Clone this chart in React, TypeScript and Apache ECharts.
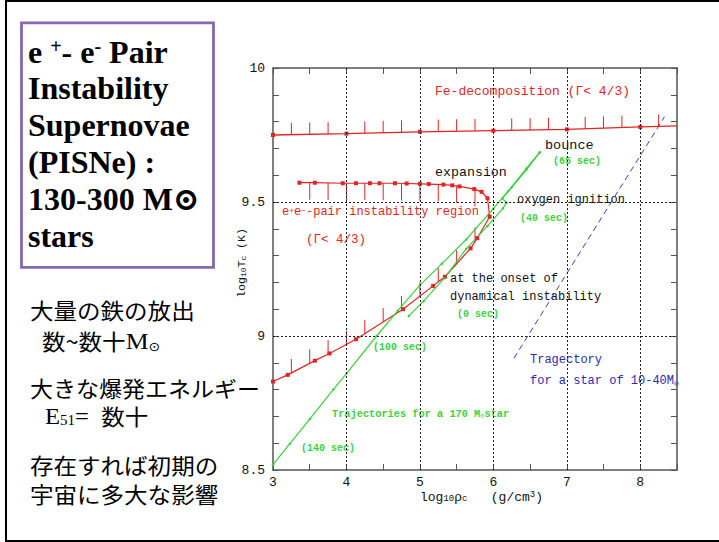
import React, { useEffect, useRef } from "react";
import * as echarts from "echarts";

// ---- data ----
const xLabels = ["3", "4", "5", "6", "7", "8"];
const yLabels = ["8.5", "9", "9.5", "10"];

const feLine: number[][] = [
  [3, 9.75], [4, 9.755], [5, 9.762], [6, 9.766], [7, 9.771], [8, 9.78], [8.5, 9.784],
];
const feTicks: number[][] = [
  [3.25, 9.751], [3.5, 9.752], [3.75, 9.753], [4.25, 9.756], [4.5, 9.758], [4.75, 9.76],
  [5.25, 9.763], [5.5, 9.764], [5.75, 9.765], [6.25, 9.767], [6.5, 9.768], [6.75, 9.77],
  [7.25, 9.773], [7.5, 9.775], [7.75, 9.778], [8.25, 9.782],
];
const pairBoundary: number[][] = [
  [3.0, 8.83], [3.2, 8.855], [3.57, 8.908], [3.77, 8.935], [4.13, 8.988], [4.77, 9.1],
  [5.18, 9.187], [5.34, 9.221], [5.69, 9.327], [5.78, 9.365], [5.95, 9.445], [5.92, 9.514],
  [5.84, 9.538], [5.74, 9.548], [5.54, 9.558], [5.44, 9.562], [5.32, 9.565], [5.12, 9.567],
  [5.0, 9.568], [4.82, 9.569], [4.66, 9.57], [4.45, 9.57], [4.32, 9.57], [4.13, 9.57],
  [3.95, 9.57], [3.57, 9.572], [3.36, 9.572],
];
const pairLowerTicks: number[][] = [
  [3.25, 8.862], [3.5, 8.898], [3.75, 8.932], [4.0, 8.966], [4.25, 9.008], [4.5, 9.052],
  [4.75, 9.097], [5.0, 9.148], [5.25, 9.202], [5.5, 9.268], [5.75, 9.353],
];
const pairUpperTicks: number[][] = [
  [3.5, 9.572], [3.75, 9.571], [4.0, 9.57], [4.25, 9.57], [4.5, 9.57], [4.75, 9.569],
  [5.0, 9.568], [5.25, 9.566], [5.5, 9.56], [5.75, 9.547],
];
const greenExpansion: number[][] = [
  [6.63, 9.685], [6.45, 9.625], [6.2, 9.54], [6.0, 9.475], [5.63, 9.36], [5.3, 9.27],
  [5.0, 9.19], [4.7, 9.095], [4.41, 9.0], [4.0, 8.86], [3.82, 8.8], [3.5, 8.69],
  [3.23, 8.598], [3.0, 8.52],
];
const greenCollapse: number[][] = [
  [4.85, 9.075], [5.05, 9.13], [5.33, 9.215], [5.63, 9.325], [5.92, 9.41], [6.13, 9.476],
  [6.18, 9.497], [6.12, 9.514], [6.25, 9.555], [6.45, 9.62], [6.63, 9.685],
];
const blueTrack: number[][] = [[6.28, 8.917], [8.33, 9.818]];
const gridX = [4, 5, 6, 7, 8];
const gridY = [9, 9.5];

const RED = "#e22424";
const GREEN = "#3ad23a";
const BLUE = "#2a2ab4";
const INK = "#111";
const MONO = "'Liberation Mono', 'DejaVu Sans Mono', monospace";
const SERIF = "'Liberation Serif', 'DejaVu Serif', serif";
const JP = "'Noto Sans CJK JP', sans-serif";

function txt(text: string, x: number, y: number, fill: string, font: string, extra: any = {}, el: any = {}) {
  return {
    type: "text",
    x,
    y,
    silent: true,
    ...el,
    style: { text, fill, font, textAlign: "left", textVerticalAlign: "middle", ...extra },
  };
}

function tickSeries(data: number[][], dir: number, len: number) {
  return {
    type: "custom",
    xAxisIndex: 0,
    yAxisIndex: 0,
    silent: true,
    data,
    renderItem: (_p: any, api: any) => {
      const p = api.coord([api.value(0), api.value(1)]);
      return {
        type: "line",
        shape: { x1: p[0], y1: p[1], x2: p[0], y2: p[1] + dir * len },
        style: { stroke: RED, lineWidth: 1 },
      };
    },
  };
}

export default function App() {
  const ref = useRef<HTMLDivElement>(null);
  useEffect(() => {
    document.body.style.margin = "0";
    const chart = echarts.init(ref.current!, null, { renderer: "svg" });

    const xFmt = (v: number) => {
      const s = String(Math.round(v * 10) / 10);
      return xLabels.includes(s) ? s : "";
    };
    const yFmt = (v: number) => {
      const s = String(Math.round(v * 10) / 10);
      return yLabels.includes(s) ? s : "";
    };
    const axisLine = { lineStyle: { color: "#555", width: 1.5 } };
    const jpStyle = { lineHeight: 22 };
    const jpEl = { scaleX: 1.07 };
    const JPF = `22px ${JP}`;

    const option: any = {
      animation: false,
      backgroundColor: "#fff",
      grid: { left: 273, top: 68, width: 404, height: 402 },
      xAxis: [
        {
          type: "value", min: 3, max: 8.5, interval: 0.5, position: "bottom",
          axisLine, axisTick: { inside: true, length: 6, lineStyle: { color: "#555" } },
          axisLabel: { formatter: xFmt, color: INK, fontFamily: MONO, fontSize: 13, margin: 6 },
          splitLine: { show: false },
        },
        {
          type: "value", min: 3, max: 8.5, interval: 0.5, position: "top",
          axisLine, axisTick: { inside: true, length: 6, lineStyle: { color: "#555" } },
          axisLabel: { show: false }, splitLine: { show: false },
        },
      ],
      yAxis: [
        {
          type: "value", min: 8.5, max: 10, interval: 0.1, position: "left",
          axisLine, axisTick: { inside: true, length: 6, lineStyle: { color: "#555" } },
          axisLabel: { formatter: yFmt, color: INK, fontFamily: MONO, fontSize: 13, margin: 8 },
          splitLine: { show: false },
        },
        {
          type: "value", min: 8.5, max: 10, interval: 0.1, position: "right",
          axisLine, axisTick: { inside: true, length: 6, lineStyle: { color: "#555" } },
          axisLabel: { show: false }, splitLine: { show: false },
        },
      ],
      series: [
        {
          type: "line", data: blueTrack, symbol: "none",
          lineStyle: { color: "#3c3cc0", width: 1, type: [6, 4] },
          markLine: {
            silent: true, symbol: "none", label: { show: false },
            lineStyle: { color: "#222", width: 1, type: [2, 2] },
            data: [...gridX.map((v) => ({ xAxis: v })), ...gridY.map((v) => ({ yAxis: v }))],
          },
        },
        {
          type: "line",
          data: feLine.map((p, i) => (i === feLine.length - 1 ? { value: p, symbol: "none" } : p)),
          symbol: "rect", symbolSize: 4, itemStyle: { color: RED },
          lineStyle: { color: RED, width: 1.3 },
        },
        tickSeries(feTicks, -1, 12),
        {
          type: "line", data: pairBoundary, symbol: "rect", symbolSize: 4,
          itemStyle: { color: RED }, lineStyle: { color: RED, width: 1.2 },
        },
        tickSeries(pairLowerTicks, -1, 14),
        tickSeries(pairUpperTicks, 1, 17),
        {
          type: "line", data: greenExpansion, symbol: "circle", symbolSize: 2.5,
          itemStyle: { color: GREEN }, lineStyle: { color: GREEN, width: 1.2 },
        },
        {
          type: "line", data: greenCollapse, symbol: "circle", symbolSize: 2.5,
          itemStyle: { color: GREEN }, lineStyle: { color: GREEN, width: 1.2 },
        },
      ],
      graphic: [
        // slide frame
        { type: "rect", silent: true, shape: { x: 6, y: 1, width: 720, height: 540 },
          style: { fill: "none", stroke: "#000", lineWidth: 2 } },
        // purple title box
        { type: "rect", silent: true, shape: { x: 21.5, y: 22.8, width: 192, height: 244.5 },
          style: { fill: "none", stroke: "#8468b0", lineWidth: 2.8 } },
        txt("{n|e }{s|+}{n|- e}{s|-}{n| Pair}", 28, 52, "#000", `bold 32px ${SERIF}`, {
          rich: {
            n: { fontFamily: SERIF, fontWeight: "bold", fontSize: 32, fill: "#000" },
            s: { fontFamily: SERIF, fontWeight: "bold", fontSize: 20, fill: "#000", verticalAlign: "top" },
          },
        }),
        txt("Instability", 28, 88, "#000", `bold 32px ${SERIF}`),
        txt("Supernovae", 28, 125, "#000", `bold 32px ${SERIF}`),
        txt("(PISNe) :", 28, 162, "#000", `bold 32px ${SERIF}`),
        txt("130-300 M⊙", 28, 199, "#000", `bold 32px ${SERIF}`),
        txt("stars", 28, 236, "#000", `bold 32px ${SERIF}`),
        // Japanese notes
        txt("大量の鉄の放出", 30, 310, "#000", JPF, jpStyle, jpEl),
        txt("{j|数~数十}{m|M}{o|⊙}", 42, 341, "#000", JPF, {
          lineHeight: 24,
          rich: {
            j: { fontFamily: JP, fontSize: 22, fill: "#000", lineHeight: 24 },
            m: { fontFamily: SERIF, fontSize: 24, fill: "#000", lineHeight: 24 },
            o: { fontFamily: "'DejaVu Sans', sans-serif", fontSize: 13, fill: "#000", verticalAlign: "bottom", lineHeight: 24 },
          },
        }, jpEl),
        txt("大きな爆発エネルギー", 30, 387, "#000", `21.5px ${JP}`, jpStyle, jpEl),
        txt("{e|E}{b|51}{e|=  }{j|数十}", 45, 416, "#000", JPF, {
          lineHeight: 22,
          rich: {
            e: { fontFamily: SERIF, fontSize: 23, fill: "#000", lineHeight: 22 },
            b: { fontFamily: SERIF, fontSize: 14, fill: "#000", verticalAlign: "bottom", lineHeight: 22 },
            j: { fontFamily: JP, fontSize: 22, fill: "#000", lineHeight: 22 },
          },
        }, jpEl),
        txt("存在すれば初期の", 30, 465, "#000", JPF, jpStyle, jpEl),
        txt("宇宙に多大な影響", 30, 494, "#000", JPF, jpStyle, jpEl),
        // axis titles
        {
          type: "text", x: 241, y: 263, rotation: Math.PI / 2, silent: true,
          style: {
            text: "{a|log}{b|10}{a|T}{b|c}{a| (K)}", textAlign: "center", textVerticalAlign: "middle",
            fill: INK, font: `11px ${MONO}`,
            rich: {
              a: { fontFamily: MONO, fontSize: 11.5, fill: INK },
              b: { fontFamily: MONO, fontSize: 8, fill: INK, verticalAlign: "bottom" },
            },
          },
        },
        txt("{a|log}{b|10}{a|ρ}{b|c}{a|   (g/cm}{p|3}{a|)}", 420, 497, INK, `13px ${MONO}`, {
          rich: {
            a: { fontFamily: MONO, fontSize: 13, fill: INK },
            b: { fontFamily: MONO, fontSize: 9, fill: INK, verticalAlign: "bottom" },
            p: { fontFamily: MONO, fontSize: 9, fill: INK, verticalAlign: "top" },
          },
        }),
        // annotations
        txt("Fe-decomposition (Γ< 4/3)", 435, 91, RED, `13px ${MONO}`),
        txt("bounce", 545, 145, INK, `13.5px ${MONO}`),
        txt("(65 sec)", 553, 161, GREEN, `bold 10px ${MONO}`),
        txt("expansion", 435, 172, INK, `13.3px ${MONO}`),
        txt("oxygen ignition", 517, 200, INK, `12px ${MONO}`),
        txt("(40 sec)", 520, 218, GREEN, `bold 10px ${MONO}`),
        txt("{n|e}{s|+}{n|e}{s|−}{n|-pair instability region}", 282, 212, RED, `12px ${MONO}`, {
          rich: {
            n: { fontFamily: MONO, fontSize: 12, fill: RED },
            s: { fontFamily: MONO, fontSize: 8, fill: RED, verticalAlign: "top" },
          },
        }),
        txt("(Γ< 4/3)", 306, 240, RED, `12.5px ${MONO}`),
        txt("at the onset of", 450, 279, INK, `12px ${MONO}`),
        txt("dynamical instability", 450, 297, INK, `12px ${MONO}`),
        txt("(0 sec)", 457, 314, GREEN, `bold 10px ${MONO}`),
        txt("(100 sec)", 373, 347, GREEN, `bold 10px ${MONO}`),
        txt("{n|Trajectories for a 170 M}{s|⊙}{n|star}", 332, 414, GREEN, `bold 10px ${MONO}`, {
          rich: {
            n: { fontFamily: MONO, fontSize: 10.3, fontWeight: "bold", fill: GREEN },
            s: { fontFamily: MONO, fontSize: 7, fill: GREEN, verticalAlign: "bottom" },
          },
        }),
        txt("(140 sec)", 301, 448, GREEN, `bold 10px ${MONO}`),
        txt("Tragectory", 530, 360, BLUE, `12px ${MONO}`),
        txt("{n|for a star of 10-40M}{s|⊙}", 530, 381, BLUE, `12px ${MONO}`, {
          rich: {
            n: { fontFamily: MONO, fontSize: 12, fill: BLUE },
            s: { fontFamily: MONO, fontSize: 8, fill: BLUE, verticalAlign: "bottom" },
          },
        }),
      ],
    };
    chart.setOption(option);
    return () => chart.dispose();
  }, []);
  return <div ref={ref} style={{ width: 719, height: 542, background: "#fff" }} />;
}
